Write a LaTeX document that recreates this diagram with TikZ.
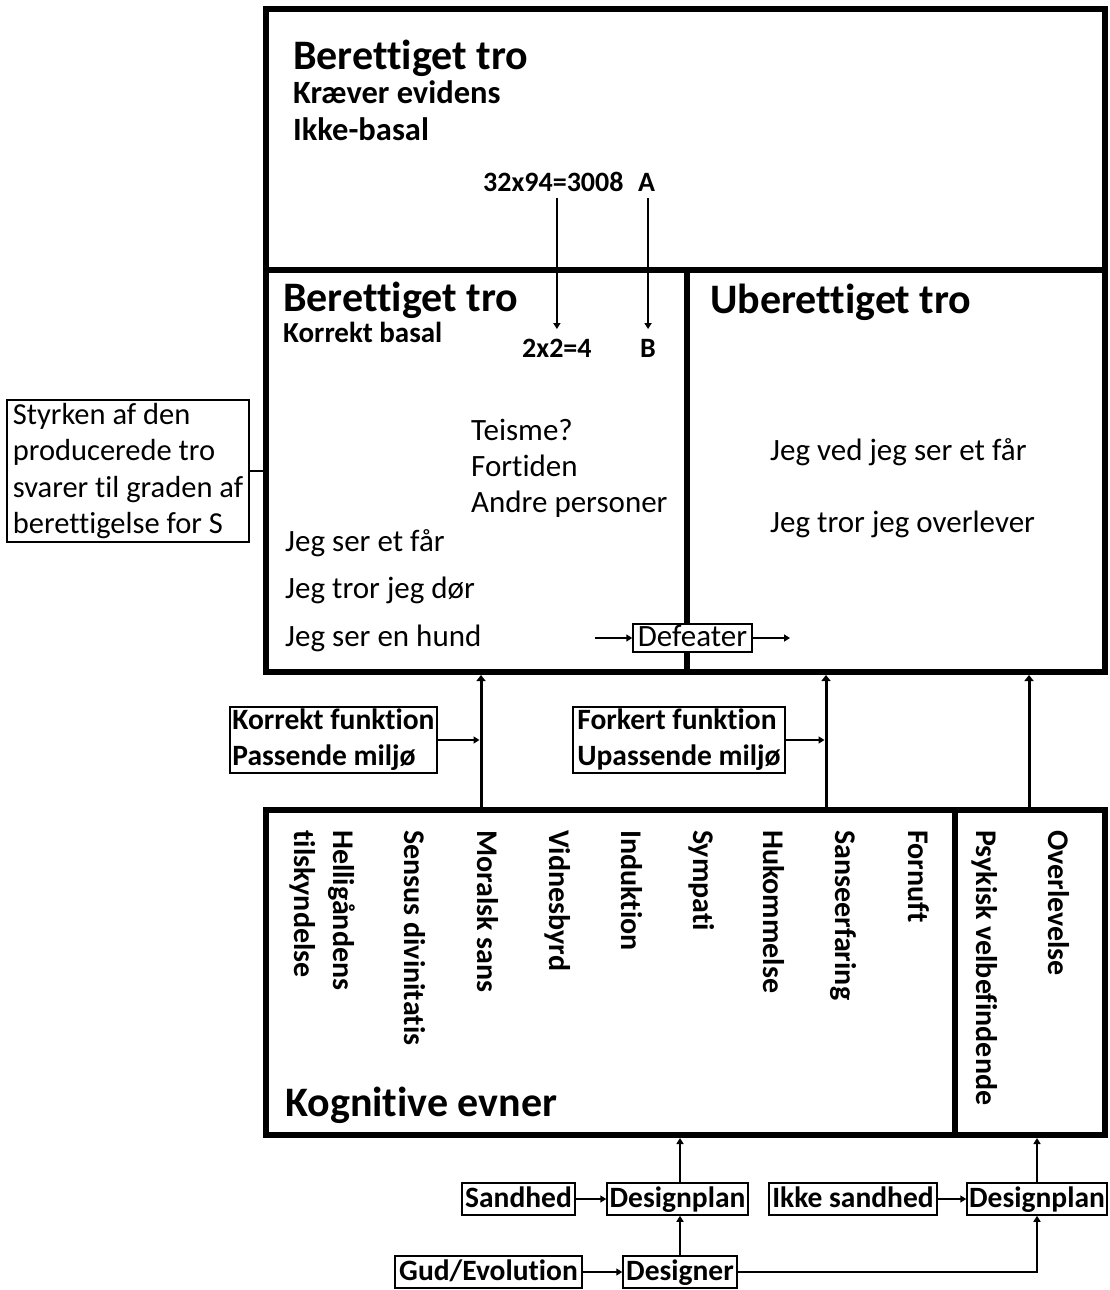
\documentclass[tikz,border=0pt]{standalone}
\usepackage{fontspec}
\setmainfont[Ligatures=NoCommon]{Carlito}
\usetikzlibrary{arrows.meta,calc}
\begin{document}
\begin{tikzpicture}[x=1pt,y=-1pt,
  frame/.style={draw,line width=6pt,inner sep=0pt},
  bigT/.style={font=\fontsize{42}{48}\selectfont\bfseries,inner sep=0pt,anchor=west,text height=31.5pt,text depth=4.2pt},
  subT/.style={font=\fontsize{32.5}{38}\selectfont\bfseries,inner sep=0pt,anchor=west,text height=24.4pt,text depth=3.2pt},
  bT/.style={font=\fontsize{30}{36}\selectfont\bfseries,inner sep=0pt,anchor=west,text height=22.5pt,text depth=3pt},
  rT/.style={font=\fontsize{31}{36}\selectfont,inner sep=0pt,anchor=west,text height=23.25pt,text depth=3.1pt},
  vT/.style={font=\fontsize{30}{36}\selectfont\bfseries,inner sep=0pt,anchor=west,rotate=-90,text height=22.5pt,text depth=3pt},
  sbox/.style={draw,line width=1.5pt,fill=white,font=\fontsize{29.5}{36}\selectfont\bfseries,inner sep=0pt,text height=22pt,text depth=6pt,minimum height=32pt},
  tbox/.style={draw,line width=1.5pt,fill=white,font=\fontsize{29.5}{36}\selectfont\bfseries,align=left,inner sep=0pt,minimum height=66pt},
  arr/.style={line width=1.5pt,-{Triangle[length=6pt,width=7pt]}},
  arrT/.style={line width=3pt,-{Triangle[length=6pt,width=9pt]}},
]
\useasboundingbox (0,0) rectangle (1109,1290);
\fill[white] (0,0) rectangle (1109,1290);

% frames
\node[frame,minimum width=839pt,minimum height=261pt] (topbox) at (685.5,139.5) {};
\node[frame,minimum width=421pt,minimum height=402pt] (midL) at (476.5,471) {};
\node[frame,minimum width=418pt,minimum height=402pt] (midR) at (896,471) {};
\node[frame,minimum width=689pt,minimum height=325pt] (lowL) at (610.5,972.5) {};
\node[frame,minimum width=150pt,minimum height=325pt] (lowR) at (1030,972.5) {};

% top box
\node[bigT] (t1) at (293,56) {Berettiget tro};
\node[subT] (t2) at (293,93) {Kræver evidens};
\node[subT] (t3) at (293,130) {Ikke-basal};
\node[bT,font=\fontsize{28}{34}\selectfont\bfseries] (eq1) at (483,182) {32x94=3008};
\node[bT,font=\fontsize{28}{34}\selectfont\bfseries] (nA) at (638,182) {A};

% middle left
\node[bigT] (m1) at (283,298) {Berettiget tro};
\node[bT,font=\fontsize{29}{34}\selectfont\bfseries] (m2) at (283,333) {Korrekt basal};
\node[bT,font=\fontsize{28}{34}\selectfont\bfseries] (eq2) at (522,348) {2x2=4};
\node[bT,font=\fontsize{28}{34}\selectfont\bfseries] (nB) at (640,348) {B};
\node[rT] (te) at (471,430) {Teisme?};
\node[rT] (fo) at (471,466) {Fortiden};
\node[rT] (an) at (471,502) {Andre personer};
\node[rT] (j1) at (285,541) {Jeg ser et får};
\node[rT] (j2) at (285,588) {Jeg tror jeg dør};
\node[rT] (j3) at (285,636) {Jeg ser en hund};

\draw[arr,shorten <=3pt,shorten >=6pt] (eq2.north |- eq1.south) -- (eq2.north);
\draw[arr,shorten <=3pt,shorten >=6pt] (nB.north |- nA.south) -- (nB.north);

% middle right
\node[bigT] (u1) at (710,300) {Uberettiget tro};
\node[rT] (u2) at (770,450) {Jeg ved jeg ser et får};
\node[rT] (u3) at (770,522) {Jeg tror jeg overlever};

% defeater
\node[sbox,font=\fontsize{31}{36}\selectfont,minimum width=119pt,minimum height=28pt,text height=21pt,text depth=5pt] (def) at (692.5,638) {Defeater};
\coordinate (dIn) at (595,638);
\coordinate (dOut) at (790,638);
\draw[arr] (dIn) -- (def.west);
\draw[arr] (def.east) -- (dOut);

% left note
\node[draw,line width=1.5pt,fill=white,font=\fontsize{30.5}{36.5}\selectfont,align=left,inner sep=3pt,minimum width=242pt,minimum height=142pt] (sty) at (128,471)
  {Styrken af den\\producerede tro\\svarer til graden af\\berettigelse for S};
\draw[line width=1.5pt] (sty.east) -- (sty.east -| midL.west);

% arrows between rows
\coordinate (x1) at (481,0);
\coordinate (x2) at (826,0);
\coordinate (x3) at (1029,0);
\draw[arrT] (lowL.north -| x1) -- (midL.south -| x1);
\draw[arrT] (lowL.north -| x2) -- (midR.south -| x2);
\draw[arrT] (lowR.north -| x3) -- (midR.south -| x3);

\node[tbox,minimum width=207pt] (kf) at (333.5,740) {Korrekt funktion\\Passende miljø};
\node[tbox,minimum width=212pt] (ff) at (679,740) {Forkert funktion\\Upassende miljø};
\draw[arr,shorten >=1.5pt] (kf.east) -- (kf.east -| x1);
\draw[arr,shorten >=1.5pt] (ff.east) -- (ff.east -| x2);

% cognitive faculties
\node[vT] (h1) at (343,830) {Helligåndens};
\node[vT] (h2) at (304,830) {tilskyndelse};
\node[vT] (c1) at (414,830) {Sensus divinitatis};
\node[vT] (c2) at (487,830) {Moralsk sans};
\node[vT] (c3) at (559,830) {Vidnesbyrd};
\node[vT] (c4) at (631,830) {Induktion};
\node[vT] (c5) at (703,830) {Sympati};
\node[vT] (c6) at (773,830) {Hukommelse};
\node[vT] (c7) at (845,830) {Sanseerfaring};
\node[vT] (c8) at (918,830) {Fornuft};
\node[vT] (c9) at (986,830) {Psykisk velbefindende};
\node[vT] (c10) at (1058,830) {Overlevelse};
\node[bigT] (kog) at (285,1103) {Kognitive evner};

% bottom design chain
\node[sbox,minimum width=113pt] (sand) at (518.5,1199) {Sandhed};
\node[sbox,minimum width=141pt] (dp1) at (677.5,1199) {Designplan};
\node[sbox,minimum width=168pt] (ikke) at (853,1199) {Ikke sandhed};
\node[sbox,minimum width=140pt] (dp2) at (1037,1199) {Designplan};
\node[sbox,minimum width=187pt] (gud) at (488.5,1272) {Gud/Evolution};
\node[sbox,minimum width=114pt] (des) at (680,1272) {Designer};

\draw[arr] (sand.east) -- (dp1.west);
\draw[arr] (ikke.east) -- (dp2.west);
\draw[arr] (gud.east) -- (des.west);
\draw[arr] (des.north) -- (des.north |- dp1.south);
\draw[arr] (des.north |- dp1.north) -- (des.north |- lowL.south);
\draw[arr] (des.east) -| (dp2.south);
\draw[arr] (dp2.north) -- (dp2.north |- lowR.south);
\end{tikzpicture}
\end{document}
